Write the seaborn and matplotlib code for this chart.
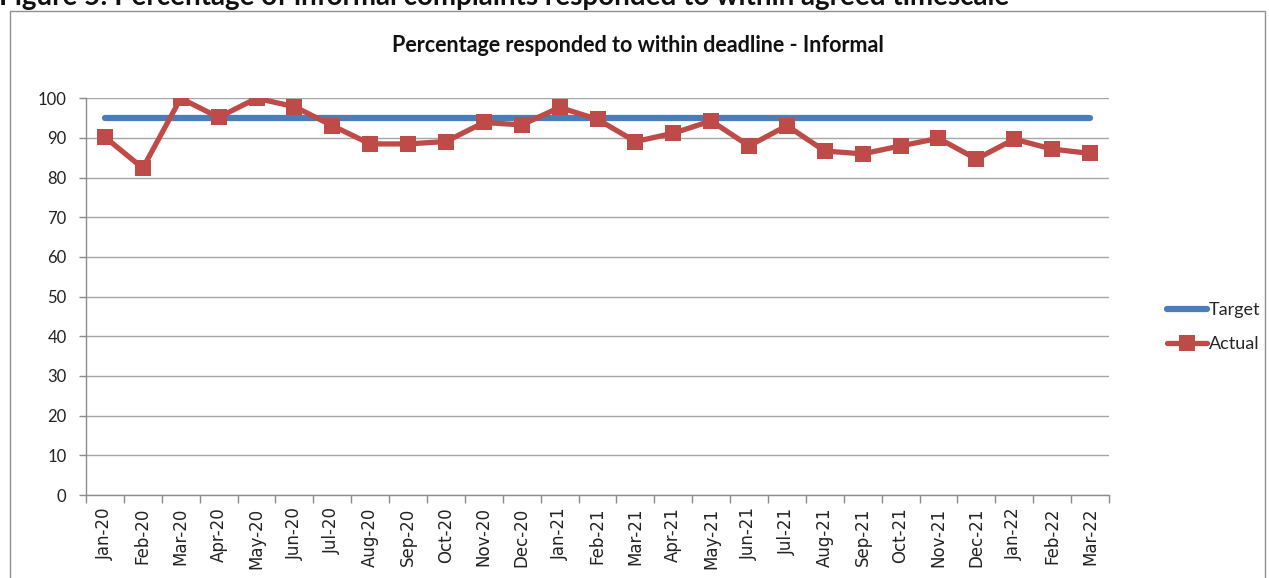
import matplotlib
matplotlib.use("Agg")
import matplotlib.pyplot as plt
from matplotlib.patches import Rectangle
from matplotlib.ticker import FixedLocator, NullFormatter
import seaborn as sns
import pandas as pd
import numpy as np

months = ["Jan-20", "Feb-20", "Mar-20", "Apr-20", "May-20", "Jun-20", "Jul-20",
          "Aug-20", "Sep-20", "Oct-20", "Nov-20", "Dec-20", "Jan-21", "Feb-21",
          "Mar-21", "Apr-21", "May-21", "Jun-21", "Jul-21", "Aug-21", "Sep-21",
          "Oct-21", "Nov-21", "Dec-21", "Jan-22", "Feb-22", "Mar-22"]
target = [95] * len(months)
actual = [90.2, 82.4, 100, 95.2, 100, 97.9, 93.1, 88.5, 88.5, 89.1, 93.9, 93.3,
          97.7, 94.7, 89.1, 91.2, 94.3, 88.0, 93.1, 86.7, 86.0, 88.0, 89.9, 84.7,
          89.7, 87.2, 86.1]
y_ticks = list(range(0, 101, 10))

sns.set_theme(style="white")
plt.rcParams["font.family"] = ["Lato", "DejaVu Sans"]

df = pd.DataFrame({"Month": months, "Target": target, "Actual": actual})
df["pos"] = np.arange(len(months))

W, H = 1269, 578
fig = plt.figure(figsize=(W / 100, H / 100), dpi=100)
ax = fig.add_axes([86 / W, 1 - 495 / H, (1109 - 86) / W, (495 - 98.3) / H])

# chart frame
fig.patches.append(Rectangle((10 / W, -0.05), 1255 / W, 1 - 11 / H + 0.05,
                             transform=fig.transFigure, fill=False,
                             edgecolor="#8f8f8f", linewidth=1.0, zorder=0))

blue = "#4A7EBB"
red = "#BE4B48"

sns.lineplot(data=df, x="pos", y="Target", ax=ax, color=blue, linewidth=4.5,
             label="Target", solid_capstyle="round")
sns.lineplot(data=df, x="pos", y="Actual", ax=ax, color=red, linewidth=3.8,
             marker="s", markersize=11, markeredgewidth=0, label="Actual")

ax.set_xlim(-0.5, len(months) - 0.5)
ax.set_ylim(0, 100)
ax.set_yticks(y_ticks)
ax.set_yticklabels([str(v) for v in y_ticks])
ax.yaxis.grid(True, color="#a6a6a6", linewidth=1.0)
ax.xaxis.grid(False)

ax.set_xticks(df["pos"])
ax.set_xticklabels(months, rotation=90)
ax.tick_params(axis="x", which="major", length=0, pad=9, labelsize=12,
               labelcolor="#222222", labelfontfamily="DejaVu Sans")
ax.xaxis.set_minor_locator(FixedLocator(np.arange(-0.5, len(months), 1)))
ax.xaxis.set_minor_formatter(NullFormatter())
ax.tick_params(axis="x", which="minor", length=6, width=1, color="#8c8c8c", bottom=True)
ax.tick_params(axis="y", which="major", length=5, width=1, color="#8c8c8c", left=True,
               pad=9, labelsize=12, labelcolor="#222222")

for side in ["top", "right"]:
    ax.spines[side].set_visible(False)
for side in ["left", "bottom"]:
    ax.spines[side].set_color("#8c8c8c")
    ax.spines[side].set_linewidth(1.0)

ax.set_xlabel("")
ax.set_ylabel("")

leg = ax.legend(loc="center left", bbox_to_anchor=(1158 / W, 1 - 327 / H),
                bbox_transform=fig.transFigure, frameon=False,
                fontsize=13, handlelength=2.2, handletextpad=0.1,
                labelspacing=1.0, borderpad=0)

fig.text(638 / W, 1 - 46 / H, "Percentage responded to within deadline - Informal",
         ha="center", va="center", fontsize=15.5, fontweight="bold", color="#111111")
fig.text(-0.001, 1 - 5 / H,
         "Figure 5: Percentage of informal complaints responded to within agreed timescale",
         ha="left", va="baseline", fontsize=20, fontweight="bold", color="#111111")

fig.savefig("out.png", dpi=100, facecolor="white")
